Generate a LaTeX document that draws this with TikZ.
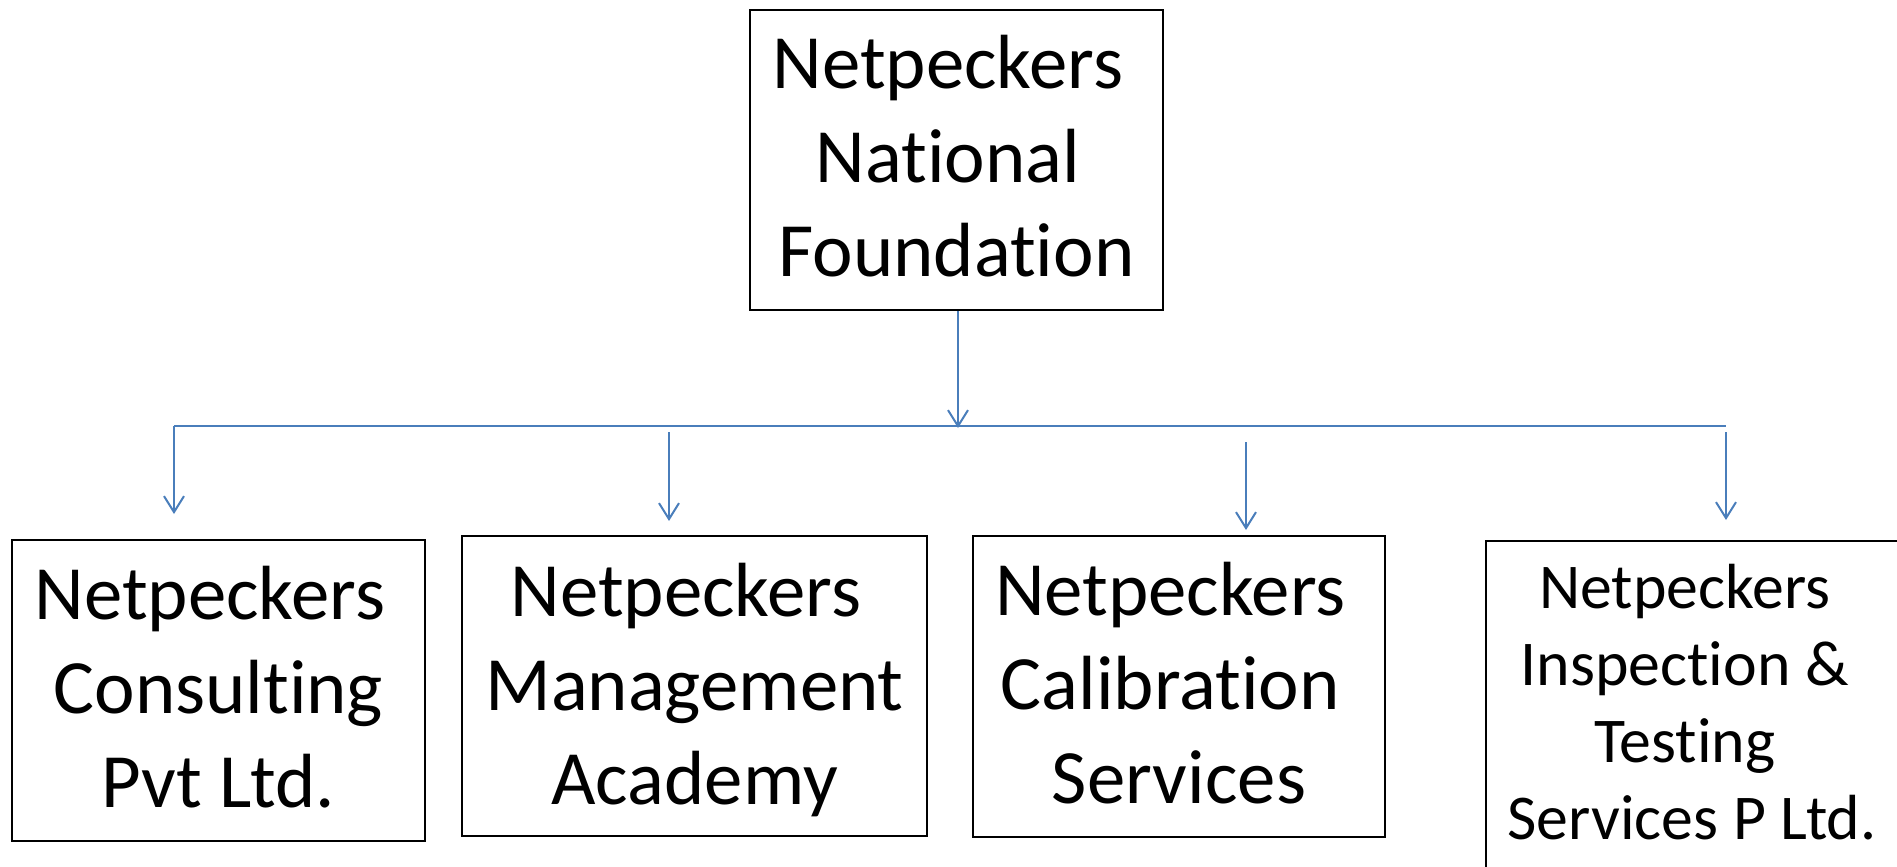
\documentclass[tikz,border=0pt]{standalone}
\usepackage{fontspec}
\setmainfont{Carlito}[Ligatures={NoCommon}]
\usetikzlibrary{arrows.meta}
\definecolor{conblue}{RGB}{74,126,187}
\newcommand{\trsp}{\hbox{\ }}
\begin{document}
\begin{tikzpicture}[x=0.5pt,y=-0.5pt,
  orgbox/.style={draw=black, line width=1.2pt, inner sep=0pt, align=center,
    font=\fontsize{38.4}{47}\selectfont},
  smallbox/.style={orgbox, font=\fontsize{31.9}{38.5}\selectfont},
  conn/.style={draw=conblue, line width=1pt},
  arr/.style={conn, -{Straight Barb[length=8pt,width=10pt,line width=1pt]}}]
\useasboundingbox (0,0) rectangle (1897,867);
\clip (0,0) rectangle (1897,867);
\node[orgbox, minimum width=206.5pt, text height=133.35pt, text depth=16.65pt]
  (top) at (956.5,160) {Netpeckers\trsp\\National\trsp\\Foundation};
\node[orgbox, minimum width=206.5pt, text height=133.65pt, text depth=16.85pt]
  (cons) at (218.5,690.5) {Netpeckers\trsp\\Consulting\\Pvt Ltd.};
\node[orgbox, minimum width=232.5pt, text height=134pt, text depth=16pt]
  (mgmt) at (694.5,686) {Netpeckers\trsp\\Management\\Academy};
\node[orgbox, minimum width=206pt, text height=133.65pt, text depth=16.85pt]
  (cal) at (1179,686.5) {Netpeckers\trsp\\Calibration\trsp\\Services};
\node[smallbox, minimum width=206pt, text height=149pt, text depth=30.5pt]
  (insp) at (1692,720.5) {Netpeckers\trsp\\Inspection \&\trsp\\Testing\trsp\\Services P Ltd.};
\coordinate (busL) at (174,426);
\coordinate (busR) at (1726,426);
\coordinate (t0) at (958,428);
\coordinate (t1) at (174,514);
\coordinate (s2) at (669,432);
\coordinate (t2) at (669,521);
\coordinate (s3) at (1246,442);
\coordinate (t3) at (1246,530);
\coordinate (s4) at (1726,432);
\coordinate (t4) at (1726,520);
\draw[conn] (busL) -- (busR);
\draw[arr] (top.south -| t0) -- (t0);
\draw[arr] (busL) -- (t1);
\draw[arr] (s2) -- (t2);
\draw[arr] (s3) -- (t3);
\draw[arr] (s4) -- (t4);
\end{tikzpicture}
\end{document}
